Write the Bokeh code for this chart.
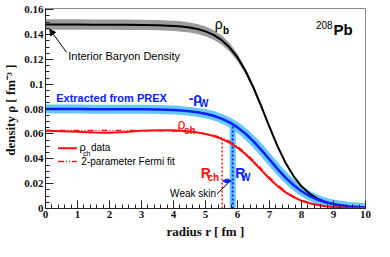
import numpy as np
from bokeh.plotting import figure
from bokeh.models import (ColumnDataSource, FixedTicker, CustomJSTickFormatter, Label,
                          Arrow, NormalHead, Range1d)
from bokeh.embed import file_html
from bokeh.resources import INLINE

# ---------------- data ----------------
r = [0, 0.5, 1, 1.5, 2, 2.5, 3, 3.5, 4, 4.25, 4.5, 4.75, 5, 5.25, 5.5, 5.75, 6, 6.25,
     6.5, 6.75, 7, 7.25, 7.5, 7.75, 8, 8.25, 8.5, 8.75, 9, 9.5, 10]
rho_b = [0.1481, 0.1481, 0.1481, 0.1480, 0.1480, 0.1479, 0.1478, 0.1476, 0.1470, 0.1465,
         0.1457, 0.1445, 0.1426, 0.1398, 0.1357, 0.1298, 0.1216, 0.1107, 0.0972, 0.0818,
         0.0656, 0.0502, 0.0368, 0.0261, 0.0179, 0.0121, 0.0080, 0.0053, 0.0034, 0.0015, 0.0006]
rho_b_err = [0.0042, 0.0042, 0.0042, 0.0042, 0.0042, 0.0042, 0.0042, 0.0042, 0.0042, 0.0042,
             0.0041, 0.0041, 0.0040, 0.0039, 0.0037, 0.0034, 0.0030, 0.0025, 0.0020, 0.0015,
             0.0011, 0.0008, 0.0005, 0.0003, 0.0002, 0.0001, 0.0001, 0.0, 0.0, 0.0, 0.0]
rho_w = [0.0800, 0.0800, 0.0800, 0.0799, 0.0799, 0.0799, 0.0798, 0.0796, 0.0792, 0.0788,
         0.0782, 0.0774, 0.0763, 0.0747, 0.0724, 0.0694, 0.0653, 0.0602, 0.0540, 0.0470,
         0.0394, 0.0319, 0.0249, 0.0189, 0.0139, 0.0101, 0.0072, 0.0050, 0.0035, 0.0017, 0.0008]
rho_ch = [0.0625, 0.0622, 0.0617, 0.0611, 0.0610, 0.0616, 0.0625, 0.0630, 0.0629, 0.0626,
          0.0620, 0.0611, 0.0599, 0.0584, 0.0561, 0.0530, 0.0489, 0.0436, 0.0374, 0.0307,
          0.0240, 0.0180, 0.0130, 0.0091, 0.0062, 0.0042, 0.0028, 0.0018, 0.0012, 0.0005, 0.0002]
rho_fit = [0.0627, 0.0627, 0.0627, 0.0627, 0.0627, 0.0627, 0.0627, 0.0626, 0.0624, 0.0621,
           0.0617, 0.0611, 0.0602, 0.0589, 0.0569, 0.0540, 0.0499, 0.0447, 0.0385, 0.0317,
           0.0250, 0.0189, 0.0138, 0.0098, 0.0068, 0.0046, 0.0031, 0.0020, 0.0013, 0.0006, 0.0002]
R_ch = 5.52
R_w = 5.85
R_w_err = 0.095

x_ticks = [0, 1, 2, 3, 4, 5, 6, 7, 8, 9, 10]
y_ticks = [0, 0.02, 0.04, 0.06, 0.08, 0.1, 0.12, 0.14, 0.16]

# ---------------- figure ----------------
BLUE = "#0a1eff"
LBLUE = "#66c8ff"
RED = "#ff1010"
SERIF = "Liberation Serif"
SANS = "Liberation Sans"

p = figure(width=374, height=241, x_range=Range1d(0, 10), y_range=Range1d(0, 0.161),
           output_backend="svg", toolbar_location=None,
           min_border_left=2, min_border_right=9, min_border_top=8, min_border_bottom=2)
p.xgrid.visible = False
p.ygrid.visible = False
p.outline_line_color = "#8a8a8a"
p.outline_line_width = 1

src = ColumnDataSource(dict(
    r=r, rho_b=rho_b, rho_w=rho_w, rho_ch=rho_ch, rho_fit=rho_fit,
    b_lo=[b - e for b, e in zip(rho_b, rho_b_err)],
    b_hi=[b + e for b, e in zip(rho_b, rho_b_err)],
))

# bands
p.varea(x="r", y1="b_lo", y2="b_hi", source=src, fill_color="#9c9c9c")
top_w = float(np.interp(R_w, r, rho_w))
top_ch = float(np.interp(R_ch, r, rho_ch))
p.quad(left=[R_w - R_w_err], right=[R_w + R_w_err], bottom=[0], top=[top_w + 0.001],
       fill_color=LBLUE, line_color=None)
p.line("r", "rho_w", source=src, line_width=9, line_color=LBLUE)

# vertical radius lines
p.segment(x0=[R_ch], y0=[0], x1=[R_ch], y1=[top_ch], line_color=RED, line_width=1.5,
          line_dash="2 2")
p.segment(x0=[R_w], y0=[0], x1=[R_w], y1=[top_w], line_color=BLUE, line_width=2,
          line_dash="2 2")

# curves
p.line("r", "rho_b", source=src, line_width=2, line_color="black")
p.line("r", "rho_w", source=src, line_width=2.5, line_color=BLUE)
p.line("r", "rho_ch", source=src, line_width=2, line_color=RED)
p.line("r", "rho_fit", source=src, line_width=1.5, line_color=RED, line_dash="6 2 1 2 1 2")

# ---------------- axes ----------------
fmt = CustomJSTickFormatter(code="""
    var s = tick.toFixed(2);
    s = s.replace(/0+$/, '').replace(/\\.$/, '');
    return s;
""")
p.xaxis.ticker = FixedTicker(ticks=x_ticks, minor_ticks=[i * 0.2 for i in range(51)])
p.yaxis.ticker = FixedTicker(ticks=y_ticks, minor_ticks=[i * 0.005 for i in range(33)])
p.yaxis.formatter = fmt
for ax in (p.xaxis[0], p.yaxis[0]):
    ax.major_tick_in = 8
    ax.major_tick_out = 0
    ax.minor_tick_in = 4
    ax.minor_tick_out = 0
    ax.axis_line_color = "#222222"
    ax.major_tick_line_color = "#222222"
    ax.minor_tick_line_color = "#222222"
    ax.major_label_text_font = SERIF
    ax.major_label_text_font_style = "bold"
    ax.major_label_text_font_size = "11px"
    ax.major_label_text_color = "#111111"
    ax.major_label_standoff = 2
    ax.axis_label_text_font = SERIF
    ax.axis_label_text_font_style = "bold"
    ax.axis_label_text_font_size = "13px"
    ax.axis_label_text_color = "#111111"
    ax.axis_label_standoff = 3
p.xaxis.axis_label = "radius r [ fm ]"
p.yaxis.axis_label = "density  \u03c1 [ fm\u207b\u00b3 ]"


def lab(x, y, text, color="black", size="11px", style="normal", font=SANS, align="left"):
    p.add_layout(Label(x=x, y=y, text=text, text_color=color, text_font_size=size,
                       text_font_style=style, text_font=font, text_baseline="middle",
                       text_align=align))


# annotations
lab(0.71, 0.1229, "Interior Baryon Density", size="11px")
p.add_layout(Arrow(end=NormalHead(size=6, fill_color="black", line_color="black"),
                   x_start=0.66, y_start=0.1257, x_end=0.13, y_end=0.1443,
                   line_color="black", line_width=1))
lab(5.29, 0.1486, "\u03c1", size="14px")
lab(5.55, 0.1430, "b", size="10px", style="bold")

lab(0.335, 0.0893, "Extracted from PREX", color=BLUE, size="11px", style="bold")
lab(4.475, 0.0893, "-\u03c1", color=BLUE, size="14px", style="bold")
lab(4.80, 0.0843, "W", color=BLUE, size="10px", style="bold")

lab(4.125, 0.0679, "\u03c1", color=RED, size="14px")
lab(4.33, 0.0629, "ch", color=RED, size="10px", style="bold")

lab(4.85, 0.0286, "R", color=RED, size="14px", style="bold")
lab(5.06, 0.0250, "ch", color=RED, size="10px", style="bold")
lab(5.93, 0.0286, "R", color=BLUE, size="14px", style="bold")
lab(6.11, 0.0250, "W", color=BLUE, size="10px", style="bold")
p.add_layout(Arrow(start=NormalHead(size=4, fill_color=BLUE, line_color=BLUE),
                   end=NormalHead(size=4, fill_color=BLUE, line_color=BLUE),
                   x_start=R_ch + 0.02, y_start=0.0221, x_end=R_w - 0.04, y_end=0.0221,
                   line_color=BLUE, line_width=1))
lab(5.33, 0.0121, "Weak skin", size="10px", align="right")
p.segment(x0=[5.36], y0=[0.0118], x1=[5.72], y1=[0.0207], line_color="black", line_width=1)

lab(8.45, 0.1479, "208", size="10px")
lab(9.0, 0.1443, "Pb", size="15px", style="bold")

# legend (manual)
p.segment(x0=[0.39], y0=[0.0486], x1=[0.98], y1=[0.0486], line_color=RED, line_width=2)
lab(1.06, 0.0493, "\u03c1", color="black", size="11px")
lab(1.17, 0.0440, "ch", size="7px")
lab(1.42, 0.0490, "data", size="10px")
p.segment(x0=[0.39], y0=[0.0379], x1=[0.98], y1=[0.0379], line_color=RED, line_width=1.5,
          line_dash="6 2 1 2 1 2")
lab(1.12, 0.0379, "2-parameter Fermi fit", size="10px")

open("out.html", "w").write(file_html(p, INLINE))
